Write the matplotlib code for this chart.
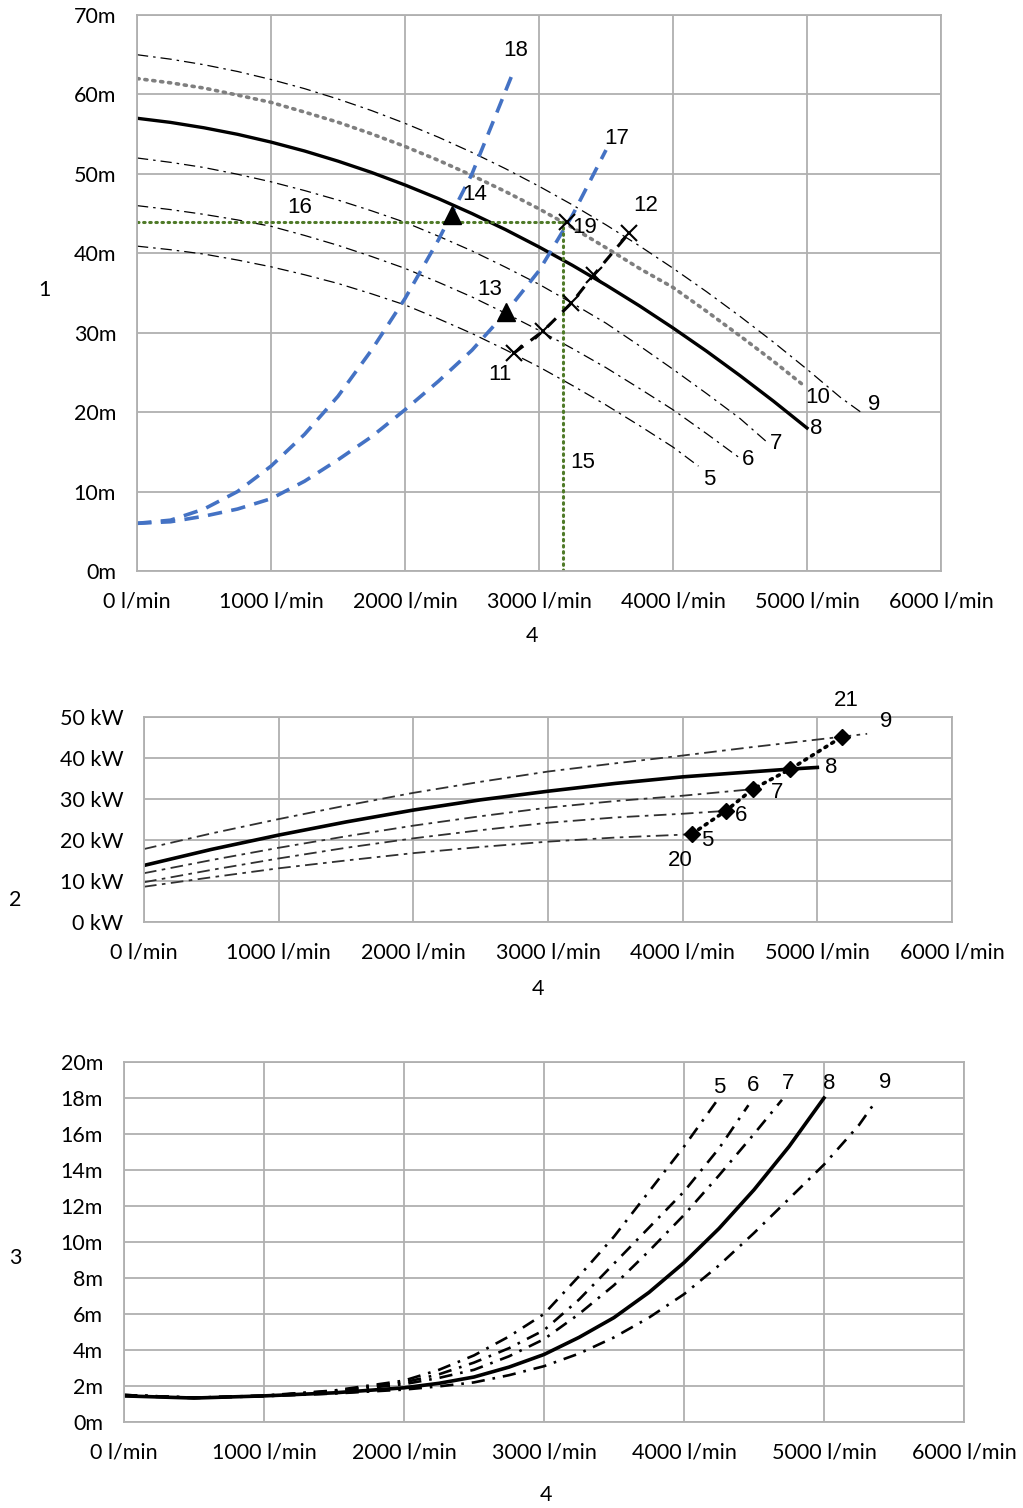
import matplotlib
matplotlib.use("Agg")
import matplotlib.pyplot as plt

# ---- chart 1: head (m) over flow (l/min) ----
q_step = [0, 250, 500, 750, 1000, 1250, 1500, 1750, 2000, 2250, 2500, 2750,
          3000, 3250, 3500, 3750, 4000, 4250, 4500, 4750, 5000, 5250]
q5 = q_step[:17] + [4190]
h5 = [40.9, 40.45, 39.9, 39.15, 38.3, 37.3, 36.2, 34.9, 33.5, 31.75, 29.9, 27.85,
      25.7, 23.35, 20.9, 18.3, 15.6, 13.2]
q6 = q_step[:19]
h6 = [46.0, 45.5, 44.9, 44.2, 43.4, 42.25, 41.0, 39.6, 38.1, 36.35, 34.5, 32.45,
      30.3, 28.0, 25.6, 22.98, 20.3, 17.3, 14.2]
q7 = q_step[:19] + [4710]
h7 = [52.0, 51.45, 50.8, 49.95, 49.0, 47.9, 46.7, 45.35, 43.9, 42.15, 40.3, 38.25,
      36.1, 33.7, 31.2, 28.35, 25.4, 22.35, 19.2, 16.1]
q8 = q_step[:21]
h8 = [57.0, 56.48, 55.8, 54.98, 54.0, 52.88, 51.6, 50.18, 48.6, 46.88, 45.0, 42.98,
      40.8, 38.48, 36.0, 33.38, 30.6, 27.68, 24.6, 21.38, 18.0]
q10 = q_step[:20] + [4980]
h10 = [62.0, 61.46, 60.8, 59.92, 59.0, 57.78, 56.5, 55.04, 53.45, 51.7, 49.8, 47.77,
       45.6, 43.23, 40.7, 38.09, 35.7, 32.7, 29.6, 26.4, 23.3]
q9 = q_step + [5410]
h9 = [65.0, 64.44, 63.74, 62.89, 61.88, 60.73, 59.42, 57.97, 56.36, 54.61, 52.7, 50.65,
      48.44, 46.09, 43.58, 40.93, 38.12, 35.17, 32.06, 28.81, 25.4, 21.85, 19.9]

# system curves
q17 = [0, 250, 500, 750, 1000, 1250, 1500, 1750, 2000, 2250, 2500, 2750, 3000, 3250, 3500]
h17 = [6, 6.2, 6.9, 7.8, 9.1, 11.3, 14.0, 16.9, 20.3, 23.9, 27.8, 32.5, 37.8, 44.8, 53.0]
q18 = [0, 250, 500, 750, 1000, 1250, 1500, 1750, 2000, 2250, 2500, 2800]
h18 = [6, 6.4, 7.8, 10.0, 13.2, 17.2, 22.0, 27.8, 34.3, 41.7, 50.0, 62.5]

# operating points
tri_q = [2350, 2750]
tri_h = [44.8, 32.6]
q12 = [2810, 3030, 3240, 3410, 3670]
h12 = [27.4, 30.2, 33.7, 37.3, 42.5]
op_q = 3180
op_h = 44.0
pt19_q = 3210
pt19_h = 44.0

# ---- chart 2: power (kW) ----
pq5 = [0, 500, 1000, 1500, 2000, 2500, 3000, 3500, 4000, 4070]
pp5 = [8.6, 10.9, 13.1, 15.0, 16.8, 18.3, 19.6, 20.6, 21.3, 21.5]
pq6 = [0, 500, 1000, 1500, 2000, 2500, 3000, 3500, 4000, 4320]
pp6 = [9.7, 12.7, 15.5, 18.1, 20.4, 22.4, 24.2, 25.5, 26.4, 27.1]
pq7 = [0, 500, 1000, 1500, 2000, 2500, 3000, 3500, 4000, 4520]
pp7 = [11.9, 15.1, 18.1, 20.9, 23.5, 25.8, 27.9, 29.5, 30.8, 32.4]
pq8 = [0, 500, 1000, 1500, 2000, 2500, 3000, 3500, 4000, 4500, 4800, 5000]
pp8 = [13.8, 17.7, 21.2, 24.4, 27.3, 29.8, 31.9, 33.8, 35.4, 36.6, 37.3, 37.7]
pq9 = [0, 500, 1000, 1500, 2000, 2500, 3000, 3500, 4000, 4500, 5000, 5370]
pp9 = [17.8, 21.6, 25.1, 28.4, 31.5, 34.2, 36.7, 38.7, 40.6, 42.6, 44.5, 45.9]
dq = [4070, 4320, 4520, 4800, 5180]
dp = [21.5, 27.1, 32.4, 37.3, 45.1]

# ---- chart 3: NPSH (m) ----
nq5 = [0, 500, 1000, 1500, 2000, 2250, 2500, 2750, 3000, 3250, 3500, 3750, 4000, 4240]
nh5 = [1.5, 1.35, 1.47, 1.75, 2.3, 2.9, 3.7, 4.75, 6.0, 8.1, 10.3, 12.8, 15.3, 17.9]
nq6 = [0, 500, 1000, 1500, 2000, 2250, 2500, 2750, 3000, 3250, 3500, 3750, 4000, 4250, 4460]
nh6 = [1.5, 1.35, 1.45, 1.72, 2.2, 2.65, 3.3, 4.1, 5.1, 6.8, 8.8, 10.8, 12.8, 15.2, 17.6]
nq7 = [0, 500, 1000, 1500, 2000, 2250, 2500, 2750, 3000, 3250, 3500, 3750, 4000, 4250, 4500, 4700]
nh7 = [1.5, 1.35, 1.45, 1.7, 2.1, 2.45, 2.9, 3.65, 4.6, 6.0, 7.6, 9.5, 11.5, 13.7, 16.0, 17.9]
nq8 = [0, 500, 1000, 1500, 2000, 2250, 2500, 2750, 3000, 3250, 3500, 3750, 4000, 4250, 4500, 4750, 5000]
nh8 = [1.45, 1.33, 1.45, 1.62, 1.9, 2.15, 2.5, 3.05, 3.75, 4.7, 5.8, 7.2, 8.85, 10.75, 12.9, 15.3, 18.0]
nq9 = [0, 500, 1000, 1500, 2000, 2250, 2500, 2750, 3000, 3250, 3500, 3750, 4000, 4250, 4500, 4750, 5000, 5250, 5350]
nh9 = [1.45, 1.33, 1.43, 1.58, 1.8, 1.98, 2.2, 2.6, 3.1, 3.8, 4.7, 5.8, 7.1, 8.7, 10.5, 12.4, 14.3, 16.5, 17.6]

flow_ticks = [0, 1000, 2000, 3000, 4000, 5000, 6000]

TICKFONT = "Lato"
NUMFONT = "Liberation Sans"
GRID = "#b0b0b0"
BLUE = "#4472c4"
GREEN = "#4f7a28"


def setup(ax, ymax, ystep, yfmt):
    ax.set_xlim(0, 6000)
    ax.set_ylim(0, ymax)
    ax.set_xticks(flow_ticks)
    ax.set_xticklabels([f"{v} l/min" for v in flow_ticks], family=TICKFONT, fontsize=15.5)
    yt = list(range(0, ymax + 1, ystep))
    ax.set_yticks(yt)
    ax.set_yticklabels([yfmt(v) for v in yt], family=TICKFONT, fontsize=15.5)
    ax.tick_params(length=0, pad=15)
    ax.grid(True, color=GRID, lw=1.3)
    for s in ax.spines.values():
        s.set_color(GRID)
        s.set_linewidth(1.3)
    ax.set_axisbelow(True)


def lab(ax, x, y, s):
    ax.text(x, y, s, family=NUMFONT, fontsize=16, ha="center", va="center", clip_on=False)


fig = plt.figure(figsize=(10.23, 15.08), dpi=100)

# chart 1
ax1 = fig.add_axes([137 / 1023, 1 - 571 / 1508, 804 / 1023, 556 / 1508])
setup(ax1, 70, 10, lambda v: f"{v}m")
thin = dict(color="black", lw=0.9, dashes=(9, 4, 2, 4))
ax1.plot(q5, h5, **thin)
ax1.plot(q6, h6, **thin)
ax1.plot(q7, h7, **thin)
ax1.plot(q9, h9, **thin)
ax1.plot(q10, h10, color="#7f7f7f", lw=2.6, linestyle=(0, (0.6, 1.6)), dash_capstyle="round")
ax1.plot(q8, h8, color="black", lw=2.4)
ax1.plot(q18, h18, color=BLUE, lw=2.6, dashes=(4, 2.6))
ax1.plot(q17, h17, color=BLUE, lw=2.6, dashes=(4, 2.6))
ax1.plot([0, op_q], [op_h, op_h], color=GREEN, lw=2.2, linestyle=(0, (0.5, 1.5)), dash_capstyle="round")
ax1.plot([op_q, op_q], [0, op_h], color=GREEN, lw=2.2, linestyle=(0, (0.5, 1.5)), dash_capstyle="round")
ax1.plot(q12, h12, color="black", lw=2.2, dashes=(4, 3), marker="x", ms=12, mew=1.5)
ax1.plot([pt19_q], [pt19_h], color="black", marker="x", ms=12, mew=1.5, ls="none")
ax1.plot(tri_q, tri_h, color="black", marker="^", ms=13, ls="none")
for x, y, s in [(2828, 65.5, "18"), (3582, 54.5, "17"), (2522, 47.4, "14"),
                (1216, 45.8, "16"), (3799, 46.0, "12"), (3343, 43.3, "19"),
                (2634, 35.5, "13"), (2709, 24.8, "11"), (3328, 13.6, "15"),
                (5082, 21.9, "10"), (5500, 20.9, "9"), (5067, 18.0, "8"),
                (4769, 16.1, "7"), (4560, 14.0, "6"), (4269, 11.5, "5")]:
    lab(ax1, x, y, s)

# chart 2
ax2 = fig.add_axes([144 / 1023, 1 - 922 / 1508, 808 / 1023, 205 / 1508])
setup(ax2, 50, 10, lambda v: f"{v} kW")
mid = dict(color="#303030", lw=1.3, dashes=(7, 3, 2, 3))
ax2.plot(pq5, pp5, **mid)
ax2.plot(pq6, pp6, **mid)
ax2.plot(pq7, pp7, **mid)
ax2.plot(pq9, pp9, **mid)
ax2.plot(pq8, pp8, color="black", lw=2.6)
ax2.plot(dq, dp, color="black", lw=2.6, linestyle=(0, (0.6, 1.6)), dash_capstyle="round",
         marker="D", ms=8)
for x, y, s in [(5212, 54.1, "21"), (5509, 49.0, "9"), (5100, 37.6, "8"),
                (4699, 31.5, "7"), (4432, 25.9, "6"), (4180, 20.0, "5"), (3979, 15.1, "20")]:
    lab(ax2, x, y, s)

# chart 3
ax3 = fig.add_axes([124 / 1023, 1 - 1422 / 1508, 840 / 1023, 360 / 1508])
setup(ax3, 20, 2, lambda v: f"{v}m")
low = dict(color="black", lw=1.9, dashes=(5, 3, 1, 3))
ax3.plot(nq5, nh5, **low)
ax3.plot(nq6, nh6, **low)
ax3.plot(nq7, nh7, **low)
ax3.plot(nq9, nh9, **low)
ax3.plot(nq8, nh8, color="black", lw=2.6)
for x, y, s in [(4250, 18.6, "5"), (4493, 18.7, "6"), (4743, 18.8, "7"),
                (5036, 18.8, "8"), (5436, 18.85, "9")]:
    lab(ax3, x, y, s)

# axis numbers
for x, y, s in [(44, 290, "1"), (532, 636, "4"), (15, 900, "2"), (538, 989, "4"),
                (15, 1258, "3"), (546, 1495, "4")]:
    fig.text(x / 1023, 1 - y / 1508, s, family=TICKFONT, fontsize=15.5, ha="center", va="center")

fig.savefig("out.png", dpi=100)
